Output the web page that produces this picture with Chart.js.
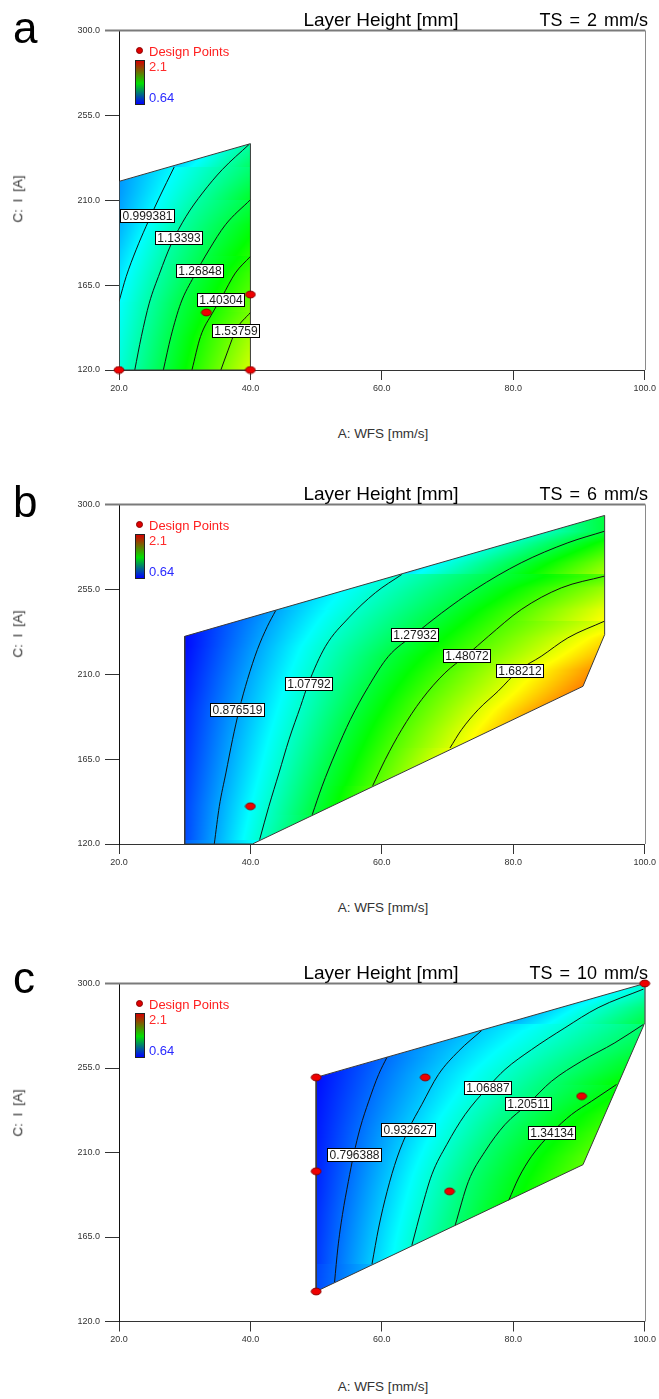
<!DOCTYPE html>
<html><head><meta charset="utf-8">
<script src="https://cdn.jsdelivr.net/npm/chart.js@4.4.1/dist/chart.umd.min.js"></script>
<style>
html,body{margin:0;padding:0;background:#fff;}
body{width:659px;height:1399px;position:relative;overflow:hidden;font-family:'Liberation Sans',Arial,sans-serif;}
.panel{position:absolute;left:0;width:659px;height:475px;}
.panel canvas{position:absolute;left:0;top:0;}
.t{position:absolute;white-space:nowrap;line-height:1;}
</style></head><body>
<div class="panel" id="pa"><canvas id="ca" width="659" height="400"></canvas></div>
<div class="panel" id="pb"><canvas id="cb" width="659" height="400"></canvas></div>
<div class="panel" id="pc"><canvas id="cc" width="659" height="400"></canvas></div>
<script>
// ---------- data ----------
const WFS_TICKS = [20, 40, 60, 80, 100];
const CURRENT_TICKS = [120, 165, 210, 255, 300];
const COLOR_MIN = 0.64, COLOR_MAX = 2.1;

// Panel a : TS = 2 mm/s
const regionA = [[20,120],[40,120],[40,240],[20,220]];
const levelsA = [0.999381, 1.13393, 1.26848, 1.40304, 1.53759];
const contourA1 = [[20,156.3],[21.1,169.6],[22.6,183.7],[24.1,196.0],[26.1,211.2],[28.4,227.6]];
const contourA2 = [[22.4,120],[23.4,137.7],[24.6,155.4],[26.2,171.4],[27.9,186.4],[30.2,201.4],[32.7,213.8],[35.7,226.2],[39.8,239.6]];
const contourA3 = [[26.75,120],[27.9,137.7],[29.4,155.4],[31.4,169.6],[33.7,183.7],[36.2,197],[40,210.3]];
const contourA4 = [[31.1,120],[32.4,137.7],[34.2,150.1],[35.7,159],[37.7,171.4],[40,180.2]];
const contourA5 = [[35.5,120],[36.6,130.5],[37.8,141.2],[40,150.5]];
const labelPosA = [[24.3,202.0],[29.0,190.0],[32.3,172.5],[35.4,157.2],[37.8,141.2]];
const designA = [[20,120],[40,120],[40,160],[33.3,150.5]];

// Panel b : TS = 6 mm/s
const regionB = [[30,120],[40.3,120],[90.6,203.6],[93.9,231],[93.9,294.2],[30,230.1]];
const levelsB = [0.876519, 1.07792, 1.27932, 1.48072, 1.68212];
const contourB1 = [[34.5,120],[35.26,139.9],[36.27,157.7],[37.27,175.3],[38.29,191.2],[39.55,207.2],[41.06,223.1],[42.58,235.4],[43.85,243.8]];
const contourB2 = [[41.4,122.3],[42.8,139.9],[44.35,157.7],[45.86,175.3],[47.63,193],[48.8,204.9],[51.42,224.8],[54.95,239.9],[59.0,253.2],[63.03,262.9]];
const contourB3 = [[49.4,135.5],[50.9,150.6],[52.94,168.3],[55.2,185.9],[57.98,203.6],[61.0,219.5],[64.9,230.9],[69.1,242.5],[74.15,254.9],[81.2,269.1],[88.3,279.7],[93.85,285.8]];
const contourB4 = [[58.6,150.9],[60.5,164.7],[63.0,180.6],[66.06,196.6],[69.6,210.7],[72.9,220.1],[76.2,230.1],[81.2,244.3],[87.3,255.8],[93.85,262]];
const contourB5 = [[70.36,170.9],[72.12,180.6],[74.65,191.2],[77.68,201],[80.86,212.1],[84.24,219.5],[88.3,229.3],[93.85,238.1]];
const labelPosB = [[37.9,191.2],[48.8,204.9],[64.9,230.9],[72.9,220.1],[80.9,212.1]];
const designB = [[40,140]];

// Panel c : TS = 10 mm/s
const regionC = [[50,136],[90.6,203.5],[100,279],[100,300],[50,250]];
const levelsC = [0.796388, 0.932627, 1.06887, 1.20511, 1.34134];
const contourC1 = [[52.8,141],[53.3,159.1],[54.0,176.9],[54.9,194.6],[55.7,208.7],[56.7,223.1],[58.0,237.3],[59.5,251.5],[60.8,260.9]];
const contourC2 = [[58.5,150.6],[59.5,169.8],[60.8,189.3],[62.3,207.1],[64.05,222.2],[66.07,235.5],[68.6,251.5],[71.65,263.9],[75.2,275.0]];
const contourC3 = [[64.56,160.5],[66.07,180.4],[67.6,198.2],[69.87,214.2],[72.66,230.2],[76.1,244.6],[78.74,254.2],[82.78,264.8],[87.85,276.4],[92.9,287.1],[99.8,297]];
const contourC4 = [[71.15,171.2],[73.17,194.6],[75.7,210.6],[78.74,224.9],[82.28,236.0],[85.8,247.9],[90.37,258.6],[95.44,268.4],[99.8,278.2]];
const contourC5 = [[79.3,184.5],[80.8,196.4],[82.78,208.0],[85.8,220.4],[88.85,230.2],[91.9,237.3],[95.7,246.2]];
const labelPosC = [[55.7,208.7],[64.05,222.2],[76.1,244.6],[82.28,236.0],[85.8,220.4]];
const designC = [[50,250],[50,200],[50,136],[66.6,250],[70.3,189.3],[90.4,240],[100,300]];

const TITLES = ['Layer Height [mm]','Layer Height [mm]','Layer Height [mm]'];
const SPEEDS = ['TS = 2 mm/s','TS = 6 mm/s','TS = 10 mm/s'];
const LETTERS = ['a','b','c'];

// ---------- rendering ----------
const FONT = "'Liberation Sans', Arial, sans-serif";

function rainbow(t){
  t = Math.max(0, Math.min(1, t));
  const st = [[0,0,0,255],[0.25,0,255,255],[0.5,0,255,0],[0.75,255,255,0],[1,255,0,0]];
  for (let i = 1; i < st.length; i++) {
    if (t <= st[i][0]) {
      const a = st[i-1], b = st[i], f = (t - a[0]) / (b[0] - a[0]);
      return [a[1]+(b[1]-a[1])*f, a[2]+(b[2]-a[2])*f, a[3]+(b[3]-a[3])*f];
    }
  }
  return [255,0,0];
}

function buildField(chart, P){
  const xs = chart.scales.x, ys = chart.scales.y;
  const W = chart.width, H = chart.height;
  const lines = P.contours.map((pts,k) => ({v: P.levels[k], p: pts.map(q => [xs.getPixelForValue(q[0]), ys.getPixelForValue(q[1])])}));
  const reg = P.region.map(q => [xs.getPixelForValue(q[0]), ys.getPixelForValue(q[1])]);
  const y0 = Math.floor(Math.min(...reg.map(r=>r[1]))) - 1, y1 = Math.ceil(Math.max(...reg.map(r=>r[1]))) + 1;
  const x0 = Math.floor(Math.min(...reg.map(r=>r[0]))) - 1, x1 = Math.ceil(Math.max(...reg.map(r=>r[0]))) + 1;
  const rows = [];
  let sSum = 0, sN = 0;
  for (let y = y0; y <= y1; y++) {
    const yc = y + 0.5, cr = [];
    lines.forEach(L => {
      for (let i = 1; i < L.p.length; i++) {
        const a = L.p[i-1], b = L.p[i];
        if ((yc - a[1]) * (yc - b[1]) <= 0 && a[1] !== b[1]) {
          cr.push([a[0] + (b[0]-a[0]) * (yc - a[1]) / (b[1] - a[1]), L.v]);
          break;
        }
      }
    });
    cr.sort((m,n) => m[0]-n[0]);
    for (let i = 1; i < cr.length; i++) { const s=(cr[i][1]-cr[i-1][1])/(cr[i][0]-cr[i-1][0]); if (isFinite(s) && s>0){ sSum += s; sN++; } }
    rows.push(cr);
  }
  const s0 = sN ? sSum / sN : 0.004;
  const filled = rows.map((cr,i) => {
    if (cr.length) return cr;
    for (let d = 1; d < rows.length; d++) {
      if (rows[i-d] && rows[i-d].length) return rows[i-d];
      if (rows[i+d] && rows[i+d].length) return rows[i+d];
    }
    return [[x0, COLOR_MIN]];
  });
  const off = document.createElement('canvas'); off.width = W; off.height = H;
  const octx = off.getContext('2d'); const img = octx.createImageData(W, H); const d = img.data;
  for (let j = 0; j < filled.length; j++) {
    const y = y0 + j; if (y < 0 || y >= H) continue;
    const cr = filled[j];
    for (let x = Math.max(0,x0); x <= Math.min(W-1,x1); x++) {
      const xc = x + 0.5; let v;
      if (cr.length === 1) v = cr[0][1] + (xc - cr[0][0]) * s0;
      else {
        let i = 1; while (i < cr.length-1 && xc > cr[i][0]) i++;
        const a = cr[i-1], b = cr[i];
        let s = (b[1]-a[1]) / (b[0]-a[0]);
        if (xc < cr[0][0] || xc > cr[cr.length-1][0]) s = Math.min(Math.max(s, 0), 2*s0);
        v = a[1] + (xc - a[0]) * s;
      }
      const c = rainbow((v - COLOR_MIN) / (COLOR_MAX - COLOR_MIN));
      const k = (y*W + x) * 4; d[k]=c[0]; d[k+1]=c[1]; d[k+2]=c[2]; d[k+3]=255;
    }
  }
  octx.putImageData(img, 0, 0);
  return off;
}

function makeDot(){
  const c = document.createElement('canvas'); c.width = 12; c.height = 9;
  const g = c.getContext('2d');
  g.beginPath(); g.ellipse(6, 4.5, 4.9, 3.4, 0, 0, Math.PI*2);
  g.fillStyle = '#ee0000'; g.fill(); g.lineWidth = 1; g.strokeStyle = '#8a0000'; g.stroke();
  return c;
}
const DOT = makeDot();

function panelPlugin(P){
  return {
    id: 'contourPanel',
    beforeDatasetsDraw(chart){
      const xs = chart.scales.x, ys = chart.scales.y, ctx = chart.ctx, ca = chart.chartArea;
      if (!chart.$field) chart.$field = buildField(chart, P);
      ctx.save();
      ctx.beginPath();
      P.region.forEach((p,i) => { const X = xs.getPixelForValue(p[0]), Y = ys.getPixelForValue(p[1]); i ? ctx.lineTo(X,Y) : ctx.moveTo(X,Y); });
      ctx.closePath(); ctx.clip();
      ctx.drawImage(chart.$field, 0, 0);
      ctx.restore();
      // frame: top and right borders
      ctx.save();
      ctx.strokeStyle = '#7a7a7a'; ctx.lineWidth = 2;
      ctx.beginPath(); ctx.moveTo(105, ca.top); ctx.lineTo(ca.right + 0.5, ca.top); ctx.stroke();
      ctx.lineWidth = 1; ctx.strokeStyle = '#8a8a8a';
      ctx.beginPath(); ctx.moveTo(Math.round(ca.right)+0.5, ca.top); ctx.lineTo(Math.round(ca.right)+0.5, ca.bottom); ctx.stroke();
      ctx.restore();
    },
    afterDatasetDraw(chart, args){
      if (args.index !== 1) return;
      const xs = chart.scales.x, ys = chart.scales.y, ctx = chart.ctx;
      ctx.save();
      ctx.font = '12px ' + FONT; ctx.textAlign = 'center'; ctx.textBaseline = 'middle';
      P.labelPos.forEach((p,k) => {
        const X = xs.getPixelForValue(p[0]), Y = ys.getPixelForValue(p[1]);
        const txt = String(P.levels[k]);
        const w = Math.round(ctx.measureText(txt).width) + 4, h = 13;
        const l = Math.round(X - w/2) + 0.5, t = Math.round(Y - h/2) + 0.5;
        ctx.fillStyle = '#fff'; ctx.fillRect(l, t, w, h);
        ctx.strokeStyle = '#000'; ctx.lineWidth = 1; ctx.strokeRect(l, t, w, h);
        ctx.fillStyle = '#1a1a1a'; ctx.fillText(txt, l + w/2, t + h/2 + 0.5);
      });
      ctx.restore();
    }
  };
}

const toXY = arr => arr.map(p => ({x: p[0], y: p[1]}));

function makeChart(id, P){
  const datasets = [
    {data: toXY(P.design), showLine: false, pointStyle: DOT, pointRadius: 5, clip: false},
    {data: toXY(P.region.concat([P.region[0]])), showLine: true, borderColor: '#3a3a3a', borderWidth: 1, pointRadius: 0, tension: 0, fill: false},
  ].concat(P.contours.map(c => ({data: toXY(c), showLine: true, borderColor: '#111', borderWidth: 1, pointRadius: 0, cubicInterpolationMode: 'monotone', fill: false})));
  return new Chart(document.getElementById(id), {
    type: 'scatter',
    data: {datasets},
    plugins: [panelPlugin(P)],
    options: {
      responsive: false, animation: false, events: [],
      layout: {padding: {top: 30.5, left: 0, right: 12.5, bottom: 400 - 30 - P.bottom}},
      plugins: {legend: {display: false}, tooltip: {enabled: false}, title: {display: false}},
      scales: {
        x: {type: 'linear', min: 20, max: 100,
            afterFit: s => { s.height = 30; },
            afterBuildTicks: s => { s.ticks = WFS_TICKS.map(v => ({value: v})); },
            ticks: {callback: v => Number(v).toFixed(1), font: {size: 9, family: FONT}, color: '#333', padding: 3, maxRotation: 0, autoSkip: false},
            grid: {drawOnChartArea: false, drawTicks: true, tickLength: 10, color: '#333', lineWidth: 1},
            border: {display: true, color: '#333', width: 1}},
        y: {type: 'linear', min: 120, max: 300,
            afterFit: s => { s.width = 119; },
            afterBuildTicks: s => { s.ticks = CURRENT_TICKS.map(v => ({value: v})); },
            ticks: {callback: v => Number(v).toFixed(1), font: {size: 9, family: FONT}, color: '#333', padding: 5, autoSkip: false},
            grid: {drawOnChartArea: false, drawTicks: true, tickLength: 14, color: '#333', lineWidth: 1},
            border: {display: true, color: '#111', width: 1}}
      }
    }
  });
}

const PANELS = [
  {id:'ca', host:'pa', off:0, region: regionA, levels: levelsA, contours:[contourA1,contourA2,contourA3,contourA4,contourA5], labelPos: labelPosA, design: designA, bottom: 370, yTitle: 199, letterTop: 5.5},
  {id:'cb', host:'pb', off:474, region: regionB, levels: levelsB, contours:[contourB1,contourB2,contourB3,contourB4,contourB5], labelPos: labelPosB, design: designB, bottom: 370, yTitle: 160, letterTop: 6},
  {id:'cc', host:'pc', off:953, region: regionC, levels: levelsC, contours:[contourC1,contourC2,contourC3,contourC4,contourC5], labelPos: labelPosC, design: designC, bottom: 368.5, yTitle: 160, letterTop: 2.5},
];

function addText(host, txt, css){
  const d = document.createElement('div'); d.className = 't'; d.textContent = txt;
  Object.assign(d.style, css); host.appendChild(d); return d;
}

PANELS.forEach((P, i) => {
  const host = document.getElementById(P.host);
  host.style.top = P.off + 'px';
  makeChart(P.id, P);
  addText(host, LETTERS[i], {left:'13px', top:P.letterTop+'px', fontSize:'44px', color:'#000'});
  addText(host, TITLES[i], {left:'381px', top:'10px', fontSize:'19px', color:'#000', transform:'translateX(-50%)'});
  addText(host, SPEEDS[i], {right:'11px', top:'11px', fontSize:'18px', color:'#000', wordSpacing:'2px'});
  // legend
  const dot = document.createElement('div');
  Object.assign(dot.style, {position:'absolute', left:'135.5px', top:'46.5px', width:'7px', height:'7px', borderRadius:'50%', background:'#e00000', border:'1px solid #800', boxSizing:'border-box'});
  host.appendChild(dot);
  addText(host, 'Design Points', {left:'149px', top:'44.5px', fontSize:'13px', color:'#ff2020'});
  const bar = document.createElement('div');
  Object.assign(bar.style, {position:'absolute', left:'135px', top:'59.5px', width:'10px', height:'45px', border:'1px solid #222', boxSizing:'border-box', background:'linear-gradient(to bottom, #d40000 0%, #00e000 52%, #0000ff 100%)'});
  host.appendChild(bar);
  addText(host, '2.1', {left:'149px', top:'60px', fontSize:'13px', color:'#ff2a2a'});
  addText(host, '0.64', {left:'149px', top:'91px', fontSize:'13px', color:'#2a2aff'});
  // axis titles
  addText(host, 'A: WFS [mm/s]', {left:'383px', top:'427px', fontSize:'13.5px', color:'#333', transform:'translateX(-50%)'});
  addText(host, 'C: I [A]', {left:'18px', top:P.yTitle+'px', fontSize:'13.5px', color:'#333', wordSpacing:'3px', transform:'translate(-50%,-50%) rotate(-90deg)'});
});
</script>
</body></html>
